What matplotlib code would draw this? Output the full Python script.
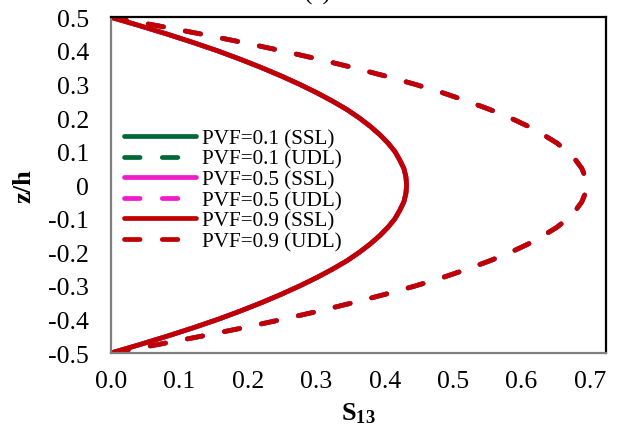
import matplotlib
matplotlib.use("Agg")
import matplotlib.pyplot as plt
from matplotlib.ticker import FuncFormatter

plt.rcParams["font.family"] = ["Liberation Serif", "DejaVu Serif"]
plt.rcParams["mathtext.fontset"] = "custom"
plt.rcParams["mathtext.rm"] = "Liberation Serif"
plt.rcParams["mathtext.bf"] = "Liberation Serif:bold"

# thickness coordinate z/h
z_h = [0.500, 0.475, 0.450, 0.425, 0.400, 0.375, 0.350, 0.325, 0.300, 0.275,
       0.250, 0.225, 0.200, 0.175, 0.150, 0.125, 0.100, 0.075, 0.050, 0.025,
       0.000,
       -0.025, -0.050, -0.075, -0.100, -0.125, -0.150, -0.175, -0.200, -0.225,
       -0.250, -0.275, -0.300, -0.325, -0.350, -0.375, -0.400, -0.425, -0.450,
       -0.475, -0.500]

# transverse shear stress S13, sinusoidal load (SSL)
s13_ssl = [0.000, 0.042, 0.082, 0.120, 0.156, 0.189, 0.220, 0.249, 0.276, 0.301,
           0.324, 0.345, 0.363, 0.379, 0.393, 0.405, 0.415, 0.422, 0.428, 0.431,
           0.432,
           0.431, 0.428, 0.422, 0.415, 0.405, 0.393, 0.379, 0.363, 0.345,
           0.324, 0.301, 0.276, 0.249, 0.220, 0.189, 0.156, 0.120, 0.082,
           0.042, 0.000]

# transverse shear stress S13, uniformly distributed load (UDL)
s13_udl = [0.000, 0.068, 0.132, 0.193, 0.250, 0.304, 0.354, 0.401, 0.445, 0.485,
           0.521, 0.554, 0.584, 0.610, 0.632, 0.652, 0.667, 0.679, 0.688, 0.693,
           0.695,
           0.693, 0.688, 0.679, 0.667, 0.652, 0.632, 0.610, 0.584, 0.554,
           0.521, 0.485, 0.445, 0.401, 0.354, 0.304, 0.250, 0.193, 0.132,
           0.068, 0.000]

pvf_values = ["0.1", "0.5", "0.9"]
pvf_colors = ["#006837", "#F21BC9", "#C00000"]

x_ticks = [0.0, 0.1, 0.2, 0.3, 0.4, 0.5, 0.6, 0.7]
y_ticks = [-0.5, -0.4, -0.3, -0.2, -0.1, 0.0, 0.1, 0.2, 0.3, 0.4, 0.5]

fig = plt.figure(figsize=(6.21, 4.39), dpi=100)
ax = fig.add_axes([0.1787, 0.1936, 0.7967, 0.7647])

lw = 3.4
for pvf, col in zip(pvf_values, pvf_colors):
    ax.plot(s13_ssl, z_h, color=col, lw=lw, solid_capstyle="round",
            solid_joinstyle="round", label=f"PVF={pvf} (SSL)")
    ln, = ax.plot(s13_udl, z_h, color=col, lw=lw, dash_capstyle="round",
                  label=f"PVF={pvf} (UDL)")
    ln.set_dashes([3.3, 4.7])

ax.set_xlim(0, 0.723)
ax.set_ylim(-0.5, 0.5)
ax.set_xticks(x_ticks)
ax.set_yticks(y_ticks)
ax.xaxis.set_major_formatter(FuncFormatter(lambda v, p: f"{v:.1f}"))
ax.yaxis.set_major_formatter(
    FuncFormatter(lambda v, p: "0" if abs(v) < 1e-9 else f"{v:.1f}"))
ax.tick_params(axis="both", length=0, labelsize=18.5)
ax.tick_params(axis="x", pad=12)
ax.tick_params(axis="y", pad=16)

for side in ("left", "bottom"):
    ax.spines[side].set_color("#7f7f7f")
    ax.spines[side].set_linewidth(1.6)
for side in ("top", "right"):
    ax.spines[side].set_color("#000000")
    ax.spines[side].set_linewidth(1.6)

ax.set_xlabel(r"$\mathbf{S_{13}}$", fontsize=19, labelpad=6)
ax.set_ylabel("z/h", fontsize=19, fontweight="bold", labelpad=9)

ax.legend(loc="upper left", bbox_to_anchor=(0.005, 0.70), frameon=False,
          fontsize=15.2, handlelength=3.4, handletextpad=0.3,
          labelspacing=0.04, borderaxespad=0.3, borderpad=0.2)

fig.text(318 / 621, 1.0, "(c)", ha="center", va="baseline", fontsize=18)

fig.savefig("out.png", dpi=100)
